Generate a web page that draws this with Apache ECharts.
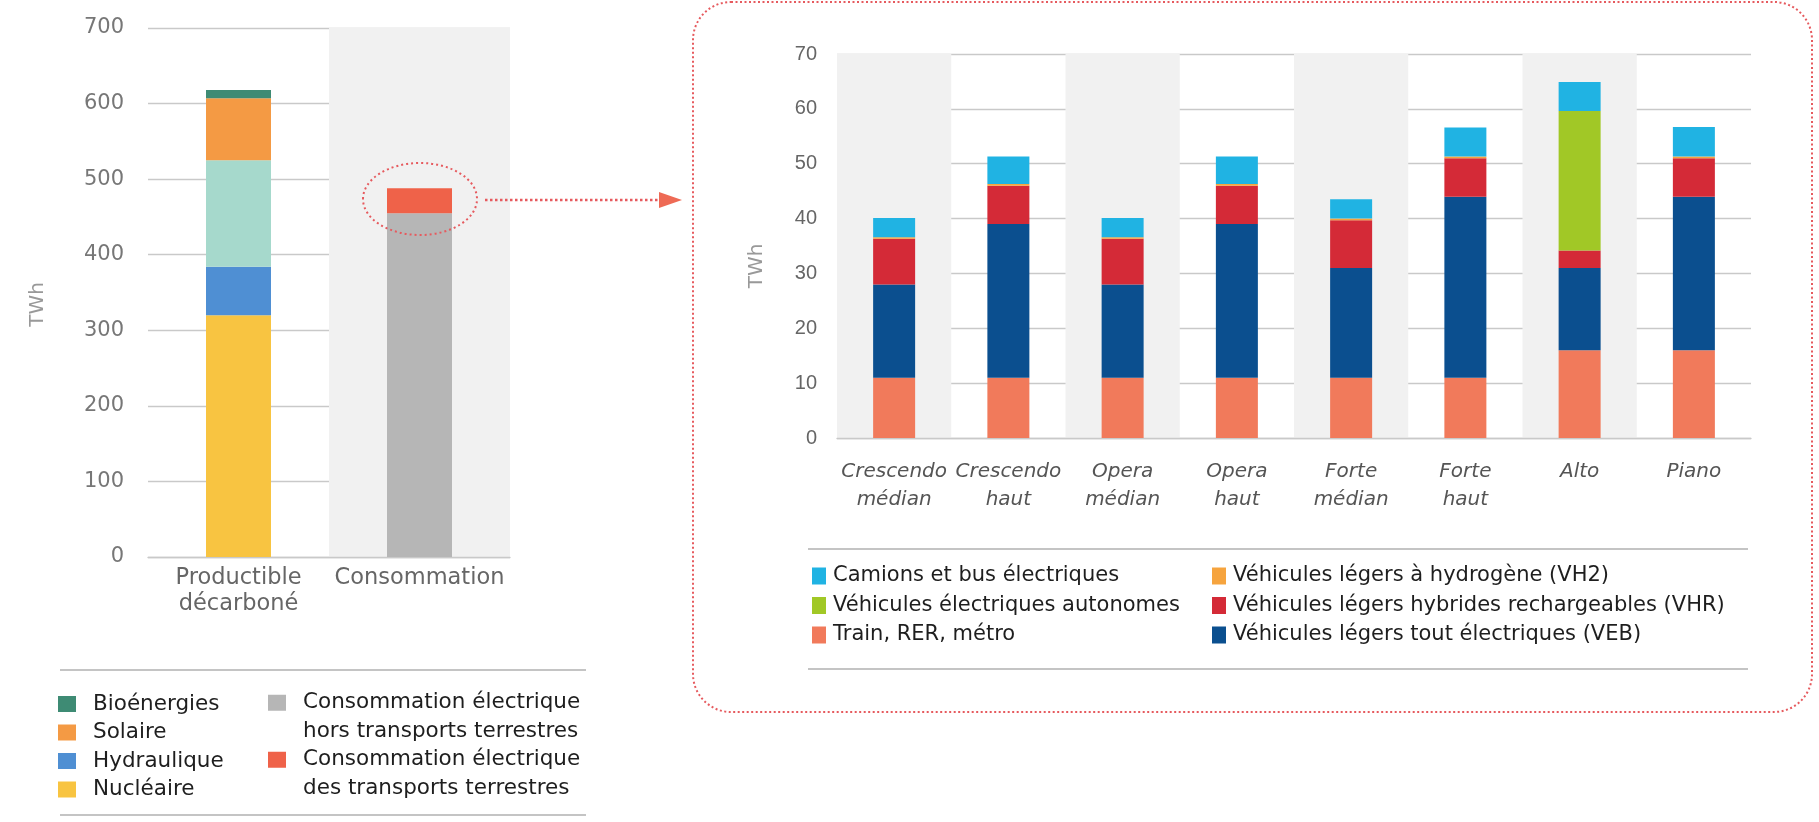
<!DOCTYPE html>
<html>
<head>
<meta charset="utf-8">
<script src="https://cdn.jsdelivr.net/npm/echarts@6/dist/echarts.min.js"></script>
<style>
html,body{margin:0;padding:0;background:#fff;}
#c{width:1819px;height:822px;}
</style>
</head>
<body>
<div id="c"></div>
<script>
// ---------- Left chart data (TWh) ----------
const leftCategories = ['Productible\ndécarboné', 'Consommation'];
const nucleaire = [320, '-'];
const hydraulique = [64, '-'];
const eolien = [141, '-'];
const solaire = [82, '-'];
const bioenergies = [11, '-'];
const consoHorsTransports = ['-', 455];
const consoTransports = ['-', 33];
const leftTicks = [0, 700, 100];

// ---------- Right chart data (TWh) ----------
const scenarios = ['Crescendo\nmédian', 'Crescendo\nhaut', 'Opera\nmédian', 'Opera\nhaut',
  'Forte\nmédian', 'Forte\nhaut', 'Alto', 'Piano'];
const trainRerMetro = [11, 11, 11, 11, 11, 11, 16, 16];
const vlToutElec = [17, 28, 17, 28, 20, 33, 15, 28];
const vlHybrides = [8.3, 7, 8.3, 7, 8.7, 7, 3.2, 7];
const vlHydrogene = [0.3, 0.3, 0.3, 0.3, 0.3, 0.3, 0, 0.3];
const veAutonomes = [0, 0, 0, 0, 0, 0, 25.4, 0];
const camionsBus = [3.5, 5, 3.5, 5, 3.5, 5.3, 5.3, 5.4];
const rightTicks = [0, 70, 10];

const DV = 'DejaVu Sans';
const LIB = 'Liberation Sans';
const gridColor = '#c9c9c9';
const dotted = '#e65a5e';

const chart = echarts.init(document.getElementById('c'), null, {renderer: 'canvas'});

function legendText(size, lh, pad) {
  return {fontFamily: DV, fontSize: size, color: '#1e1e1e', lineHeight: lh, padding: pad};
}

const option = {
  animation: false,
  backgroundColor: '#ffffff',
  grid: [
    {left: 148, right: 1819 - 510, top: 28, bottom: 822 - 557, containLabel: false},
    {left: 837, right: 1819 - 1751, top: 54, bottom: 822 - 438, containLabel: false}
  ],
  xAxis: [
    {gridIndex: 0, type: 'category', data: leftCategories,
      axisLine: {show: true, lineStyle: {color: gridColor, width: 1.3}},
      axisTick: {show: false},
      axisLabel: {interval: 0, fontFamily: DV, fontSize: 22.5, color: '#666', lineHeight: 26, margin: 8},
      splitArea: {show: true, interval: 0, areaStyle: {color: ['rgba(0,0,0,0)', '#f1f1f1']}}
    },
    {gridIndex: 1, type: 'category', data: scenarios,
      axisLine: {show: true, lineStyle: {color: gridColor, width: 1.3}},
      axisTick: {show: false},
      axisLabel: {interval: 0, fontFamily: DV, fontStyle: 'italic', fontSize: 20, color: '#555', lineHeight: 28, margin: 20},
      splitArea: {show: true, interval: 0, areaStyle: {color: ['#f1f1f1', 'rgba(0,0,0,0)']}}
    }
  ],
  yAxis: [
    {gridIndex: 0, type: 'value', min: leftTicks[0], max: leftTicks[1], interval: leftTicks[2],
      name: 'TWh', nameLocation: 'middle', nameGap: 100,
      nameTextStyle: {fontFamily: DV, fontSize: 20, color: '#999', padding: [0, 24, 0, 0]},
      axisLine: {show: false}, axisTick: {show: false},
      axisLabel: {fontFamily: DV, fontSize: 21, color: '#777', margin: 24},
      splitLine: {lineStyle: {color: gridColor, width: 1.3}}
    },
    {gridIndex: 1, type: 'value', min: rightTicks[0], max: rightTicks[1], interval: rightTicks[2],
      name: 'TWh', nameLocation: 'middle', nameGap: 70,
      nameTextStyle: {fontFamily: DV, fontSize: 20, color: '#999', padding: [0, 40, 0, 0]},
      axisLine: {show: false}, axisTick: {show: false},
      axisLabel: {fontFamily: LIB, fontSize: 20, color: '#666', margin: 20},
      splitLine: {lineStyle: {color: gridColor, width: 1.3}}
    }
  ],
  legend: [
    {data: ['Bioénergies', 'Solaire', 'Hydraulique', 'Nucléaire'], orient: 'vertical',
      left: 58, top: 693, padding: 0, itemWidth: 18, itemHeight: 16, itemGap: 6.5,
      icon: 'rect', selectedMode: false, textStyle: legendText(21.5, 22, [0, 0, 0, 12])},
    {data: ['Consommation électrique\nhors transports terrestres'], orient: 'vertical',
      left: 268, top: 660, padding: 0, itemWidth: 18, itemHeight: 16,
      formatter: function (n) { return '\n' + n; },
      icon: 'rect', selectedMode: false, textStyle: legendText(21.5, 28.5, [0, 0, 0, 12])},
    {data: ['Consommation électrique\ndes transports terrestres'], orient: 'vertical',
      left: 268, top: 717, padding: 0, itemWidth: 18, itemHeight: 16,
      formatter: function (n) { return '\n' + n; },
      icon: 'rect', selectedMode: false, textStyle: legendText(21.5, 28.5, [0, 0, 0, 12])},
    {data: ['Camions et bus électriques', 'Véhicules électriques autonomes', 'Train, RER, métro'],
      orient: 'vertical', left: 812, top: 565, padding: 0, itemWidth: 14, itemHeight: 17, itemGap: 7.5,
      icon: 'rect', selectedMode: false, textStyle: legendText(21, 22, [0, 0, 0, 2])},
    {data: ['Véhicules légers à hydrogène (VH2)', 'Véhicules légers hybrides rechargeables (VHR)',
      'Véhicules légers tout électriques (VEB)'],
      orient: 'vertical', left: 1212, top: 565, padding: 0, itemWidth: 14, itemHeight: 17, itemGap: 7.5,
      icon: 'rect', selectedMode: false, textStyle: legendText(21, 22, [0, 0, 0, 2])}
  ],
  series: [
    {name: 'Nucléaire', type: 'bar', stack: 'L', xAxisIndex: 0, yAxisIndex: 0, barWidth: 65, data: nucleaire, itemStyle: {color: '#f8c441'}},
    {name: 'Hydraulique', type: 'bar', stack: 'L', xAxisIndex: 0, yAxisIndex: 0, barWidth: 65, data: hydraulique, itemStyle: {color: '#4f8fd3'}},
    {name: 'Éolien', type: 'bar', stack: 'L', xAxisIndex: 0, yAxisIndex: 0, barWidth: 65, data: eolien, itemStyle: {color: '#a6d9cc'}},
    {name: 'Solaire', type: 'bar', stack: 'L', xAxisIndex: 0, yAxisIndex: 0, barWidth: 65, data: solaire, itemStyle: {color: '#f49a44'}},
    {name: 'Bioénergies', type: 'bar', stack: 'L', xAxisIndex: 0, yAxisIndex: 0, barWidth: 65, data: bioenergies, itemStyle: {color: '#3e8b74'}},
    {name: 'Consommation électrique\nhors transports terrestres', type: 'bar', stack: 'L', xAxisIndex: 0, yAxisIndex: 0, barWidth: 65, data: consoHorsTransports, itemStyle: {color: '#b6b6b6'}},
    {name: 'Consommation électrique\ndes transports terrestres', type: 'bar', stack: 'L', xAxisIndex: 0, yAxisIndex: 0, barWidth: 65, data: consoTransports, itemStyle: {color: '#ef6249'}},

    {name: 'Train, RER, métro', type: 'bar', stack: 'R', xAxisIndex: 1, yAxisIndex: 1, barWidth: 42, data: trainRerMetro, itemStyle: {color: '#f17a5b'}},
    {name: 'Véhicules légers tout électriques (VEB)', type: 'bar', stack: 'R', xAxisIndex: 1, yAxisIndex: 1, barWidth: 42, data: vlToutElec, itemStyle: {color: '#0b4f8f'}},
    {name: 'Véhicules légers hybrides rechargeables (VHR)', type: 'bar', stack: 'R', xAxisIndex: 1, yAxisIndex: 1, barWidth: 42, data: vlHybrides, itemStyle: {color: '#d42a37'}},
    {name: 'Véhicules légers à hydrogène (VH2)', type: 'bar', stack: 'R', xAxisIndex: 1, yAxisIndex: 1, barWidth: 42, data: vlHydrogene, itemStyle: {color: '#f6a43e'}},
    {name: 'Véhicules électriques autonomes', type: 'bar', stack: 'R', xAxisIndex: 1, yAxisIndex: 1, barWidth: 42, data: veAutonomes, itemStyle: {color: '#a1c826'}},
    {name: 'Camions et bus électriques', type: 'bar', stack: 'R', xAxisIndex: 1, yAxisIndex: 1, barWidth: 42, data: camionsBus, itemStyle: {color: '#20b3e3'}}
  ],
  graphic: [
    {type: 'rect', z: 100, shape: {x: 693, y: 2, width: 1119, height: 710, r: 38},
      style: {fill: 'none', stroke: dotted, lineWidth: 2, lineDash: [2, 2.5]}},
    {type: 'ellipse', z: 100, shape: {cx: 420, cy: 199, rx: 57, ry: 36},
      style: {fill: 'none', stroke: dotted, lineWidth: 2, lineDash: [2, 3]}},
    {type: 'line', z: 100, shape: {x1: 485, y1: 200, x2: 662, y2: 200},
      style: {stroke: dotted, lineWidth: 2.5, lineDash: [2.5, 2.5]}},
    {type: 'polygon', z: 100, shape: {points: [[659, 192], [682, 200], [659, 208]]},
      style: {fill: '#ee6a55'}},
    {type: 'line', z: 100, shape: {x1: 60, y1: 670, x2: 586, y2: 670}, style: {stroke: '#c4c4c4', lineWidth: 2}},
    {type: 'line', z: 100, shape: {x1: 60, y1: 815, x2: 586, y2: 815}, style: {stroke: '#c4c4c4', lineWidth: 2}},
    {type: 'line', z: 100, shape: {x1: 808, y1: 549, x2: 1748, y2: 549}, style: {stroke: '#c4c4c4', lineWidth: 2}},
    {type: 'line', z: 100, shape: {x1: 808, y1: 669, x2: 1748, y2: 669}, style: {stroke: '#c4c4c4', lineWidth: 2}}
  ]
};
chart.setOption(option);
</script>
</body>
</html>
